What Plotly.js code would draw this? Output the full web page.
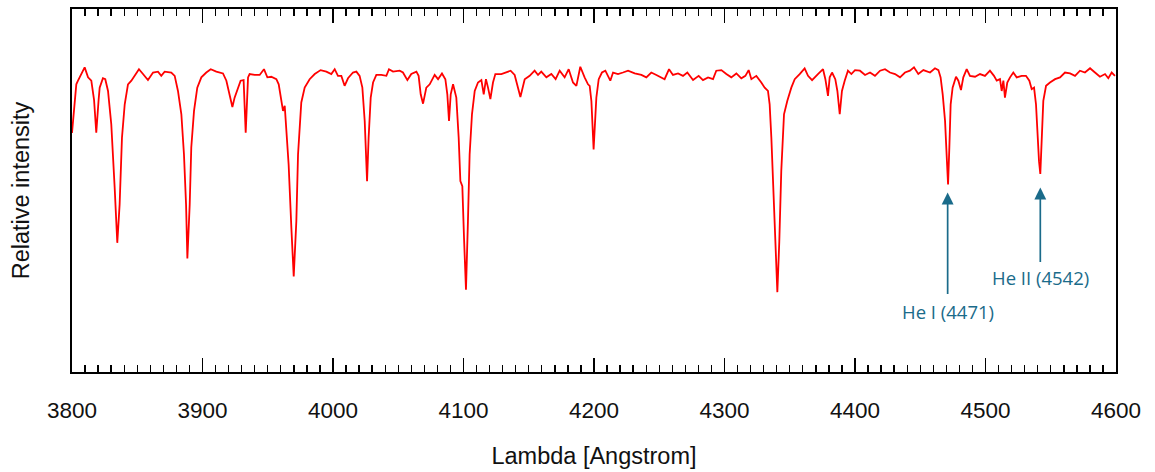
<!DOCTYPE html>
<html>
<head>
<meta charset="utf-8">
<script src="https://cdn.plot.ly/plotly-3.0.1.min.js"></script>
<style>html,body{margin:0;padding:0;background:#fff;}#chart{width:1155px;height:472px;}</style>
</head>
<body>
<div id="chart"></div>
<script>
const wavelength = [
3800.0,3803.3,3804.6,3807.1,3809.7,3812.3,3814.8,3816.9,3818.6,3820.4,3821.2,3823.7,3825.5,3827.6,3830.1,3832.7,3834.7,3836.5,3838.3,3840.4,
3842.9,3845.5,3848.0,3851.3,3854.4,3858.2,3862.1,3865.9,3868.4,3871.0,3876.1,3878.7,3881.2,3883.8,3885.8,3887.4,3888.4,3890.2,3891.4,3893.5,
3896.0,3899.1,3902.9,3906.3,3910.6,3915.7,3918.3,3920.8,3922.9,3924.6,3927.2,3929.2,3931.5,3933.1,3934.9,3936.1,3940.0,3943.8,3947.1,3949.7,
3952.7,3956.6,3958.4,3960.4,3961.7,3963.0,3964.2,3966.0,3968.1,3969.9,3971.9,3973.2,3975.7,3978.3,3982.1,3986.0,3990.5,3994.9,3998.7,
4001.3,4003.8,4006.4,4008.9,4011.5,4015.3,4017.9,4020.4,4022.5,4024.3,4026.1,4027.3,4028.9,4030.7,4033.2,4037.0,4040.9,4042.9,4046.0,4051.1,
4053.6,4057.0,4060.0,4063.9,4065.6,4067.2,4069.0,4071.5,4074.1,4077.9,4080.5,4083.5,4086.1,4087.6,4088.9,4090.2,4092.0,4094.5,4096.3,4097.6,
4099.1,4100.4,4101.9,4103.4,4104.7,4106.5,4108.6,4111.1,4113.7,4115.5,4117.2,4118.8,4120.6,4122.6,4124.4,4129.0,4132.8,4136.1,4139.2,4141.8,
4143.6,4146.9,4150.7,4154.5,4157.1,4159.6,4163.5,4167.3,4170.6,4173.7,4177.5,4180.6,4183.9,4186.5,4189.5,4192.8,4195.4,
4196.7,4198.0,4199.7,4201.8,4203.6,4206.1,4208.7,4210.7,4212.5,4214.6,4218.4,4222.2,4226.1,4231.2,4236.3,4240.1,4243.9,4247.8,4250.3,4254.1,
4257.5,4260.5,4264.4,4268.2,4271.5,4275.9,4280.2,4283.5,4287.4,4291.2,4293.7,4297.6,4301.4,4305.2,4309.1,4312.9,4316.0,4318.5,4320.6,4324.4,
4328.2,4330.8,4333.3,4334.6,4335.9,4337.4,4339.0,4340.5,4342.0,4343.5,4345.6,4348.1,4351.2,4353.8,4357.6,4361.4,4364.0,4367.1,4371.6,4375.5,
4377.3,4379.3,4380.6,4382.4,4384.9,4386.5,4388.3,4390.0,4392.1,4394.6,4397.2,
4400.0,4403.8,4407.7,4411.5,4415.3,4419.2,4423.0,4426.8,4430.7,4434.5,4438.3,4442.1,4445.2,4448.5,4452.4,4457.5,4461.3,4463.9,4465.6,4467.2,
4469.0,4470.2,4471.3,4472.3,4473.3,4474.8,4477.4,4479.2,4481.2,4483.0,4485.6,4488.1,4492.0,4495.8,4499.6,4503.4,4506.5,4508.6,4511.1,4512.4,
4513.7,4514.9,4516.7,4518.8,4521.3,4523.9,4527.7,4531.0,4533.6,4535.4,4537.2,4538.7,4540.0,4541.0,4542.0,4543.0,4544.3,4546.4,4549.4,4553.3,
4557.1,4560.9,4564.8,4568.6,4572.4,4576.2,4580.1,4583.9,4587.7,4591.6,4594.1,4596.7,4599.2
];
const intensity = [
0.790,0.951,0.963,0.985,1.007,0.974,0.963,0.900,0.791,0.900,0.940,0.971,0.968,0.929,0.819,0.609,0.427,0.554,0.775,0.885,
0.951,0.963,0.979,1.001,0.985,0.965,0.990,0.993,0.979,0.993,0.990,0.979,0.929,0.852,0.719,0.554,0.375,0.554,0.742,0.863,
0.940,0.974,0.990,1.001,0.993,0.987,0.963,0.918,0.876,0.907,0.940,0.963,0.965,0.791,0.974,0.985,0.982,0.982,1.001,0.974,
0.976,0.968,0.951,0.902,0.863,0.880,0.797,0.686,0.476,0.316,0.498,0.719,0.891,0.940,0.968,0.985,0.998,0.993,0.985,
1.001,0.979,0.979,0.946,0.971,0.990,0.993,0.979,0.940,0.830,0.631,0.775,0.907,0.957,0.982,0.982,0.979,1.001,0.993,0.996,
0.990,0.965,0.985,0.993,0.979,0.918,0.887,0.940,0.951,0.982,0.968,0.987,0.968,0.918,0.830,0.918,0.951,0.907,0.775,0.631,
0.614,0.443,0.272,0.498,0.719,0.852,0.929,0.957,0.965,0.918,0.968,0.940,0.902,0.957,0.985,0.985,0.990,0.996,0.982,0.940,
0.909,0.968,0.979,0.996,0.982,0.993,0.974,0.985,0.968,0.996,0.974,1.001,0.957,0.946,1.009,0.974,0.951,
0.946,0.896,0.736,0.907,0.968,0.990,0.996,0.979,0.963,0.990,0.985,0.990,0.996,0.987,0.982,0.974,0.990,0.982,0.976,0.968,
1.001,0.982,0.987,0.979,0.990,0.965,0.979,0.965,0.974,0.968,0.996,0.998,0.985,0.974,0.987,0.971,0.979,0.998,0.968,0.979,
0.957,0.940,0.929,0.885,0.775,0.587,0.388,0.264,0.432,0.664,0.852,0.896,0.940,0.968,0.985,1.004,0.979,0.965,0.985,1.001,
0.968,0.913,0.974,0.990,0.968,0.929,0.852,0.929,0.963,0.996,0.985,
0.998,0.996,0.982,0.990,0.979,0.996,1.001,0.990,0.985,0.974,0.990,0.996,1.007,0.985,0.998,0.990,1.004,0.998,0.974,0.918,
0.830,0.719,0.620,0.742,0.885,0.940,0.976,0.963,0.932,0.974,1.001,0.979,0.976,0.985,0.979,0.996,0.979,0.963,0.968,0.929,
0.963,0.907,0.957,0.974,0.990,0.974,0.979,0.979,0.963,0.935,0.940,0.885,0.775,0.697,0.655,0.775,0.896,0.946,0.957,0.968,
0.974,0.990,0.987,0.979,0.996,0.990,1.004,0.990,0.976,0.985,0.971,0.990,0.979
];

const lineLabels = ["He I (4471)", "He II (4542)"];
const lineWavelengths = [4471, 4542];
const arrowTipIntensity = [0.593, 0.610];
const labelIntensity = [0.199, 0.312];
const arrowLengthPx = [103, 76];

const annColor = "#1a6b8a";
const annotations = [];
for (let i = 0; i < lineLabels.length; i++) {
  annotations.push({
    x: lineWavelengths[i], y: arrowTipIntensity[i], xref: "x", yref: "y",
    text: "", showarrow: true, ax: 0, ay: arrowLengthPx[i],
    arrowhead: 2, arrowsize: 1.4, arrowwidth: 1.7, arrowcolor: annColor, standoff: 0
  });
  annotations.push({
    x: lineWavelengths[i], y: labelIntensity[i], xref: "x", yref: "y",
    text: lineLabels[i], showarrow: false,
    font: {family: "Open Sans, sans-serif", size: 18.5, color: annColor}
  });
}

const trace = {
  x: wavelength, y: intensity, type: "scatter", mode: "lines",
  line: {color: "#ff0000", width: 1.8}, hoverinfo: "skip"
};

const layout = {
  width: 1155, height: 472,
  margin: {l: 72, r: 39, t: 9, b: 100},
  paper_bgcolor: "#ffffff", plot_bgcolor: "#ffffff",
  showlegend: false,
  font: {family: "Liberation Sans, Arial, sans-serif", color: "#111111"},
  xaxis: {
    range: [3800, 4600], dtick: 100, tick0: 3800,
    ticks: "inside", ticklen: 14, tickwidth: 1.6, tickcolor: "#000",
    minor: {dtick: 10, ticks: "inside", ticklen: 7, tickwidth: 1.4, tickcolor: "#000", showgrid: false},
    showline: true, linecolor: "#000", linewidth: 2, mirror: "ticks",
    showgrid: false, zeroline: false,
    tickfont: {size: 22.5, color: "#111"}, ticklabelstandoff: 17,
    title: {text: "Lambda [Angstrom]", font: {size: 23.5, color: "#111"}, standoff: 26}
  },
  yaxis: {
    range: [0, 1.2], showticklabels: false, ticks: "",
    showline: true, linecolor: "#000", linewidth: 2, mirror: true,
    showgrid: false, zeroline: false,
    title: {text: "Relative intensity", font: {size: 23.5, color: "#111"}, standoff: 34}
  },
  annotations: annotations
};

Plotly.newPlot("chart", [trace], layout, {displayModeBar: false, staticPlot: true});
</script>
</body>
</html>
